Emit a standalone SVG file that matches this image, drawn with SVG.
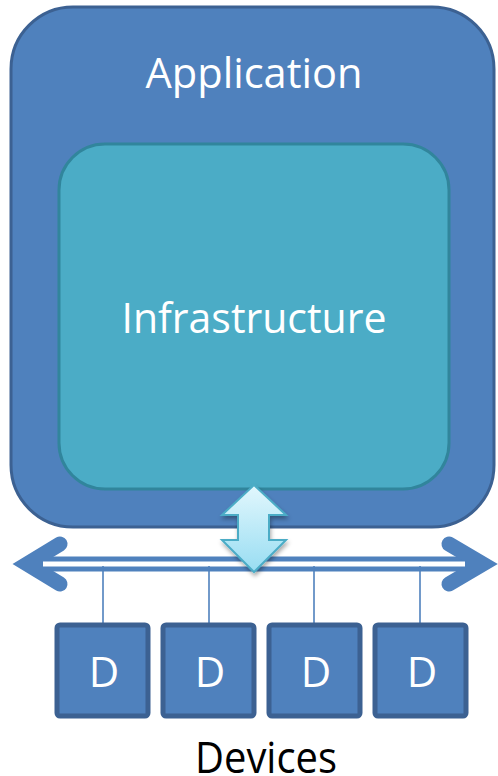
<svg xmlns="http://www.w3.org/2000/svg" width="498" height="776" viewBox="0 0 498 776">
<defs>
<style>
.t{font-family:"Open Sans","Liberation Sans",sans-serif;font-size:42px;fill:#fff;text-anchor:middle}
.dev rect{fill:#4F81BD;stroke:#3C6192;stroke-width:5}
.drop{stroke:#4F81BD;stroke-width:1.6}
</style>
<linearGradient id="ag" x1="0" y1="0" x2="0" y2="1">
<stop offset="0" stop-color="#E2F7FD"/>
<stop offset="1" stop-color="#98DDF2"/>
</linearGradient>
<filter id="sh" x="-30%" y="-30%" width="160%" height="160%">
<feDropShadow dx="1" dy="3" stdDeviation="2" flood-color="#000" flood-opacity="0.35"/>
</filter>
</defs>
<g id="application">
<rect x="11" y="7" width="483" height="520" rx="62" fill="#4F81BD" stroke="#3C6192" stroke-width="3"/>
<text class="t" x="254" y="88" textLength="217" lengthAdjust="spacingAndGlyphs">Application</text>
</g>
<g id="infrastructure">
<rect x="59" y="144" width="390" height="345" rx="46" fill="#4BACC6" stroke="#31859C" stroke-width="3"/>
<text class="t" x="254" y="333" textLength="265" lengthAdjust="spacingAndGlyphs">Infrastructure</text>
</g>
<g id="connectors">
<g id="bus">
<line x1="28" y1="564" x2="480" y2="564" stroke="#4F81BD" stroke-width="15"/>
<polyline points="60,544 27,564 60,584" fill="none" stroke="#4F81BD" stroke-width="15" stroke-linecap="round" stroke-linejoin="miter"/>
<polyline points="449,544 483,564 449,584" fill="none" stroke="#4F81BD" stroke-width="15" stroke-linecap="round" stroke-linejoin="miter"/>
<line x1="43" y1="564" x2="465" y2="564" stroke="#fff" stroke-width="5"/>
</g>
<line class="drop" x1="103" y1="566" x2="103" y2="624"/>
<line class="drop" x1="209" y1="566" x2="209" y2="624"/>
<line class="drop" x1="314" y1="566" x2="314" y2="624"/>
<line class="drop" x1="420" y1="566" x2="420" y2="624"/>
<path id="updown" d="M254,485 L286,515 L269,515 L269,540 L286,540 L254,572 L222,540 L238,540 L238,515 L222,515 Z" fill="url(#ag)" stroke="#4BACC6" stroke-width="2" stroke-linejoin="miter" filter="url(#sh)"/>
</g>
<g id="device1" class="dev"><rect x="57" y="625" width="91" height="91" rx="3"/><text class="t" x="104" y="687">D</text></g>
<g id="device2" class="dev"><rect x="163" y="625" width="91" height="91" rx="3"/><text class="t" x="210" y="687">D</text></g>
<g id="device3" class="dev"><rect x="269" y="625" width="91" height="91" rx="3"/><text class="t" x="316" y="687">D</text></g>
<g id="device4" class="dev"><rect x="375" y="625" width="91" height="91" rx="3"/><text class="t" x="422" y="687">D</text></g>
<g id="devices-label">
<text class="t" x="266" y="773" style="fill:#000;font-size:44px" textLength="142" lengthAdjust="spacingAndGlyphs">Devices</text>
</g>
</svg>
